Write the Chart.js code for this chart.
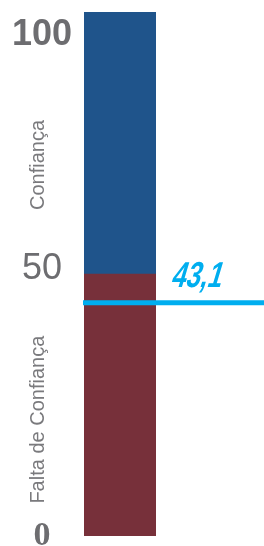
<!DOCTYPE html>
<html>
<head>
<meta charset="utf-8">
<script src="https://cdn.jsdelivr.net/npm/chart.js@4/dist/chart.umd.min.js"></script>
<style>
  html, body { margin: 0; padding: 0; background: #fff; }
  #wrap { width: 264px; height: 546px; position: relative; }
</style>
</head>
<body>
<div id="wrap"><canvas id="gauge"></canvas></div>
<script>
const categories = ["Índice"];
const lowerValues = [50];   // Falta de Confiança
const upperValues = [50];   // Confiança
const tickValues = [0, 50, 100];
const tickLabels = ["0", "50", "100"];
const zoneLabels = ["Falta de Confiança", "Confiança"];
const zoneCenters = [22.2, 70.8];
const markerValue = 44.5;
const markerLabel = "43,1";

const grey = "#6d6d70";

// per tick style: font and vertical nudge
const tickStyle = {
    0: {font: "bold 34px 'Liberation Serif'", dy: 0},
    50: {font: "36px 'Liberation Sans'", dy: -5},
    100: {font: "bold 36px 'Liberation Sans'", dy: 23}
};

const overlay = {
    id: "overlay",
    afterDraw(chart) {
        const {ctx, chartArea} = chart;
        const y = chart.scales.y;
        ctx.save();

        // tick labels
        ctx.fillStyle = grey;
        ctx.textAlign = "center";
        ctx.textBaseline = "middle";
        tickValues.forEach((v, i) => {
            const st = tickStyle[v];
            ctx.font = st.font;
            ctx.fillText(tickLabels[i], 42, y.getPixelForValue(v) + st.dy);
        });

        // rotated zone labels
        ctx.font = "20px 'Liberation Sans'";
        ctx.fillStyle = "#7a7a7d";
        zoneLabels.forEach((t, i) => {
            ctx.save();
            ctx.translate(38, y.getPixelForValue(zoneCenters[i]));
            ctx.rotate(-Math.PI / 2);
            ctx.fillText(t, 0, 0);
            ctx.restore();
        });

        // marker line
        const my = y.getPixelForValue(markerValue);
        ctx.strokeStyle = "#00aeef";
        ctx.lineWidth = 5;
        ctx.beginPath();
        ctx.moveTo(chartArea.left - 1, my);
        ctx.lineTo(chart.width, my);
        ctx.stroke();

        // marker label, slanted condensed
        ctx.fillStyle = "#00aeef";
        ctx.font = "bold 36px 'Liberation Sans Narrow', 'Liberation Sans'";
        ctx.textAlign = "left";
        ctx.textBaseline = "alphabetic";
        ctx.translate(170, my - 16);
        ctx.transform(0.72, 0, -0.3, 1, 0, 0);
        ctx.fillText(markerLabel, 0, 0);
        ctx.restore();
    }
};

new Chart(document.getElementById("gauge"), {
    type: "bar",
    data: {
        labels: categories,
        datasets: [
            {label: zoneLabels[0], data: lowerValues, backgroundColor: "#77303a"},
            {label: zoneLabels[1], data: upperValues, backgroundColor: "#1f548b"}
        ]
    },
    options: {
        responsive: true,
        maintainAspectRatio: false,
        animation: false,
        barPercentage: 1,
        categoryPercentage: 1,
        layout: {padding: {left: 84, right: 108, top: 12, bottom: 10}},
        plugins: {legend: {display: false}, tooltip: {enabled: false}},
        scales: {
            x: {display: false, stacked: true},
            y: {display: false, stacked: true, min: 0, max: 100}
        }
    },
    plugins: [overlay]
});
</script>
</body>
</html>
